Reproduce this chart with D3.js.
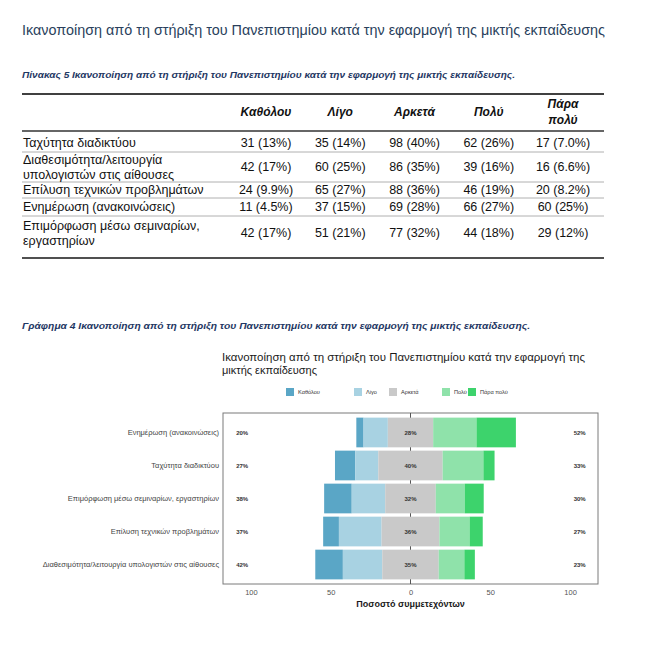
<!DOCTYPE html>
<html><head><meta charset="utf-8">
<script src="https://cdn.jsdelivr.net/npm/d3@7"></script>
<style>body{margin:0;background:#fff}svg{display:block}text{font-family:"Liberation Sans",Arial,sans-serif}</style>
</head><body><svg id="c" width="650" height="650"></svg>
<script>
// ---- data ----
const pageTitle = "Ικανοποίηση από τη στήριξη του Πανεπιστημίου κατά την εφαρμογή της μικτής εκπαίδευσης";
const tableCaption = "Πίνακας 5 Ικανοποίηση από τη στήριξη του Πανεπιστημίου κατά την εφαρμογή της μικτής εκπαίδευσης.";
const chartCaption = "Γράφημα 4 Ικανοποίηση από τη στήριξη του Πανεπιστημίου κατά την εφαρμογή της μικτής  εκπαίδευσης.";
const chartTitle = ["Ικανοποίηση από τη στήριξη του Πανεπιστημίου κατά την εφαρμογή της", "μικτής εκπαίδευσης"];
const categories = ["Καθόλου", "Λίγο", "Αρκετά", "Πολύ", "Πάρα πολύ"];
const headerLines = [["Καθόλου"], ["Λίγο"], ["Αρκετά"], ["Πολύ"], ["Πάρα", "πολύ"]];
const items = ["Ταχύτητα διαδικτύου", "Διαθεσιμότητα/λειτουργία υπολογιστών στις αίθουσες", "Επίλυση τεχνικών προβλημάτων", "Ενημέρωση (ανακοινώσεις)", "Επιμόρφωση μέσω σεμιναρίων, εργαστηρίων"];
const itemLines = [["Ταχύτητα διαδικτύου"], ["Διαθεσιμότητα/λειτουργία", "υπολογιστών στις αίθουσες"], ["Επίλυση τεχνικών προβλημάτων"], ["Ενημέρωση (ανακοινώσεις)"], ["Επιμόρφωση μέσω σεμιναρίων,", "εργαστηρίων"]];
const cntKatholou = [31, 42, 24, 11, 42];
const cntLigo     = [35, 60, 65, 37, 51];
const cntArketa   = [98, 86, 88, 69, 77];
const cntPolu     = [62, 39, 46, 66, 44];
const cntParaPolu = [17, 16, 20, 60, 29];
const colors = ["#5AA6C6", "#A8D2E2", "#C9C9C9", "#8FE2AA", "#3DD36C"];
const xTicks = [-100, -50, 0, 50, 100];
const axisTitle = "Ποσοστό συμμετεχόντων";

const series = [cntKatholou, cntLigo, cntArketa, cntPolu, cntParaPolu];
const rows = items.map((name, i) => {
  const c = series.map(s => s[i]);
  const tot = d3.sum(c);
  return {name, i, counts: c, tot, pct: c.map(v => v / tot * 100)};
});
const fmt = d3.format(".2r");

const svg = d3.select("#c");

// ---- page title & table ----
svg.append("text").attr("x", 22).attr("y", 35).attr("font-size", 15).attr("fill", "#2A3F5C")
  .attr("textLength", 583).attr("lengthAdjust", "spacingAndGlyphs").text(pageTitle);
svg.append("text").attr("x", 22).attr("y", 78).attr("font-size", 8.5).attr("font-style", "italic").attr("font-weight", 700)
  .attr("fill", "#1F3864").attr("textLength", 493).attr("lengthAdjust", "spacingAndGlyphs").text(tableCaption);

const colX = d3.scalePoint().domain(categories).range([266, 563]);
const tL = 22, tR = 604;
const rowY = [143, 167, 190, 207, 233];
const sepY = [152, 182, 198, 216];
svg.append("line").attr("x1", tL).attr("x2", tR).attr("y1", 94).attr("y2", 94).attr("stroke", "#404040").attr("stroke-width", 2);
svg.append("line").attr("x1", tL).attr("x2", tR).attr("y1", 131).attr("y2", 131).attr("stroke", "#333").attr("stroke-width", 1.5);
svg.selectAll(".sep").data(sepY).join("line").attr("x1", tL).attr("x2", tR).attr("y1", d => d).attr("y2", d => d)
  .attr("stroke", "#b0b0b0").attr("stroke-width", 1);
svg.append("line").attr("x1", tL).attr("x2", tR).attr("y1", 258).attr("y2", 258).attr("stroke", "#505050").attr("stroke-width", 2);

categories.forEach((c, j) => {
  const lines = headerLines[j];
  lines.forEach((l, k) => {
    svg.append("text").attr("x", colX(c)).attr("y", 112 + (k - (lines.length - 1) / 2) * 16).attr("dy", "0.35em")
      .attr("text-anchor", "middle").attr("font-size", 12).attr("font-style", "italic").attr("font-weight", 700)
      .attr("fill", "#111").text(l);
  });
});
rows.forEach((r, i) => {
  const lines = itemLines[i];
  lines.forEach((l, k) => {
    svg.append("text").attr("x", 23).attr("y", rowY[i] + (k - (lines.length - 1) / 2) * 15).attr("dy", "0.35em")
      .attr("font-size", 12.5).attr("fill", "#111").text(l);
  });
  categories.forEach((c, j) => {
    svg.append("text").attr("x", colX(c)).attr("y", rowY[i]).attr("dy", "0.35em").attr("text-anchor", "middle")
      .attr("font-size", 12.5).attr("fill", "#111").text(`${r.counts[j]} (${fmt(r.pct[j])}%)`);
  });
});

// ---- chart ----
svg.append("text").attr("x", 22).attr("y", 329).attr("font-size", 8.5).attr("font-style", "italic").attr("font-weight", 700)
  .attr("fill", "#1F3864").attr("textLength", 508).attr("lengthAdjust", "spacingAndGlyphs").text(chartCaption);
svg.append("text").attr("x", 222).attr("y", 361).attr("font-size", 11).attr("fill", "#1a1a1a")
  .attr("textLength", 363).attr("lengthAdjust", "spacingAndGlyphs").text(chartTitle[0]);
svg.append("text").attr("x", 222).attr("y", 374).attr("font-size", 11).attr("fill", "#1a1a1a").text(chartTitle[1]);

// legend
const legX = [286, 354, 389, 442, 468];
categories.forEach((c, j) => {
  svg.append("rect").attr("x", legX[j]).attr("y", 388).attr("width", 8).attr("height", 8).attr("fill", colors[j]);
  svg.append("text").attr("x", legX[j] + 12).attr("y", 392).attr("dy", "0.35em").attr("font-size", 5.6)
    .attr("fill", "#333").text(c);
});

const pL = 223, pR = 598, pT = 413, pB = 584;
const x = d3.scaleLinear().domain([-117.5, 117.5]).range([pL, pR]);
const sorted = rows.map(r => ({...r, high: r.pct[3] + r.pct[4], low: r.pct[0] + r.pct[1], mid: r.pct[2]}))
  .sort((a, b) => b.high - a.high);
const y = d3.scaleBand().domain(sorted.map(d => d.name)).range([pT, pB]).paddingInner(0.1).paddingOuter(0.14);

svg.append("rect").attr("x", pL).attr("y", pT).attr("width", pR - pL).attr("height", pB - pT)
  .attr("fill", "#fff").attr("stroke", "#7a7a7a").attr("stroke-width", 1);
svg.append("line").attr("x1", x(0)).attr("x2", x(0)).attr("y1", pT).attr("y2", pB).attr("stroke", "#555").attr("stroke-width", 1);

sorted.forEach(r => {
  let start = -(r.pct[0] + r.pct[1] + r.pct[2] / 2);
  const segs = r.pct.map((p, j) => { const s = {x0: start, x1: start + p, j}; start += p; return s; });
  svg.append("g").selectAll("rect").data(segs).join("rect")
    .attr("x", d => x(d.x0)).attr("width", d => x(d.x1) - x(d.x0))
    .attr("y", y(r.name)).attr("height", y.bandwidth()).attr("fill", d => colors[d.j]);
  const cy = y(r.name) + y.bandwidth() / 2;
  const lbl = (xx, t) => svg.append("text").attr("x", xx).attr("y", cy).attr("dy", "0.35em").attr("text-anchor", "middle")
    .attr("font-size", 6).attr("font-weight", 700).attr("fill", "#333").text(t);
  lbl(x(-105.5), Math.round(r.low) + "%");
  lbl(x(0), Math.round(r.mid) + "%");
  lbl(x(106), Math.round(r.high) + "%");
  svg.append("text").attr("x", 219).attr("y", cy).attr("dy", "0.35em").attr("text-anchor", "end")
    .attr("font-size", 7.5).attr("fill", "#444").text(r.name);
});

const ax = svg.append("g").attr("transform", `translate(0,${pB})`)
  .call(d3.axisBottom(x).tickValues(xTicks).tickFormat(d => Math.abs(d)).tickSize(0).tickPadding(6));
ax.select(".domain").remove();
ax.selectAll("text").attr("font-size", 7.5).attr("fill", "#555").attr("font-family", "Liberation Sans");
svg.append("text").attr("x", x(0)).attr("y", 607).attr("text-anchor", "middle").attr("font-size", 9)
  .attr("font-weight", 700).attr("fill", "#1a1a1a").text(axisTitle);
</script></body></html>
